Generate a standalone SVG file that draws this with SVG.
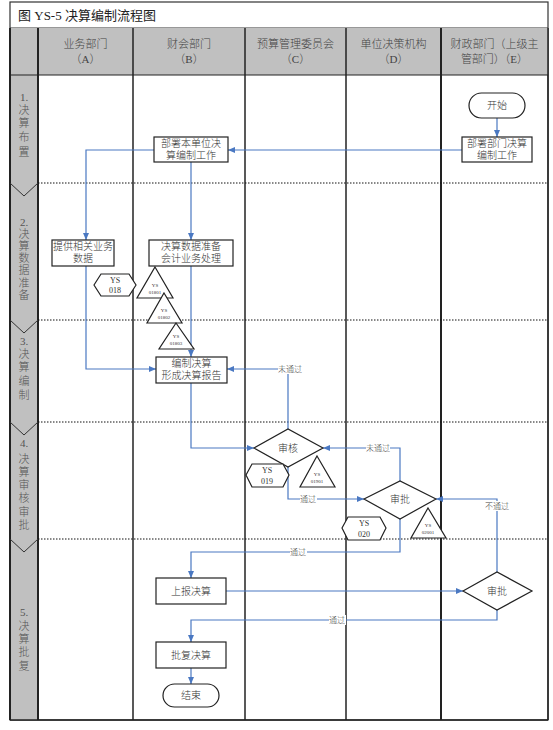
<svg xmlns="http://www.w3.org/2000/svg" width="553" height="730" viewBox="0 0 553 730">
<defs>
<marker id="arr" markerWidth="7" markerHeight="6" refX="7" refY="3" orient="auto" markerUnits="userSpaceOnUse"><path d="M0,0 L7,3 L0,6 Z" fill="#4a78c2"/></marker>
<style>
text{font-family:"Liberation Serif","Noto Sans CJK SC",serif;fill:#333;text-anchor:middle;font-weight:300}
.hd{font-size:11px;fill:#444}
.ph{font-size:11px;fill:#555}
.nd{font-size:10px}
.lb{font-size:8px;fill:#444}
.sm{font-size:8px}
.tn{font-size:5px}
.box{fill:#fff;stroke:#222;stroke-width:1.2}
.dot{stroke:#111;stroke-width:1;stroke-dasharray:1.5,1.5;fill:none}
.col{stroke:#222;stroke-width:1.5;fill:none}
.cn{fill:none;stroke:#4a78c2;stroke-width:1.2;marker-end:url(#arr)}
.lbg{fill:#fff}
</style>
</defs>
<rect x="10" y="2" width="538" height="718" fill="#fff" stroke="#333" stroke-width="1.2"/>
<text x="18" y="20" style="font-size:13px;text-anchor:start;fill:#222;font-weight:400">图 YS-5 决算编制流程图</text>
<line x1="10" y1="28" x2="548" y2="28" stroke="#333" stroke-width="1.2"/>
<rect x="10" y="28" width="538" height="47" fill="#c0c0c0"/>
<rect x="10" y="75" width="28" height="645" fill="#c0c0c0"/>
<line x1="10" y1="75" x2="548" y2="75" stroke="#222" stroke-width="1.2"/>
<g id="lanes">
<line class="col" x1="10" y1="28" x2="10" y2="720" style="stroke-width:2"/>
<line class="col" x1="38" y1="28" x2="38" y2="720" style="stroke-width:2"/>
<line class="col" x1="133" y1="28" x2="133" y2="720"/>
<line class="col" x1="245" y1="28" x2="245" y2="720"/>
<line class="col" x1="346" y1="28" x2="346" y2="720"/>
<line class="col" x1="441" y1="28" x2="441" y2="720" style="stroke-width:2"/>
<line class="col" x1="548" y1="28" x2="548" y2="720"/>
<line x1="10" y1="720" x2="548" y2="720" stroke="#222" stroke-width="1.5"/>
<line class="dot" x1="38" y1="183" x2="548" y2="183"/>
<line class="dot" x1="38" y1="320" x2="548" y2="320"/>
<line class="dot" x1="38" y1="422" x2="548" y2="422"/>
<line class="dot" x1="38" y1="539" x2="548" y2="539"/>
<polyline points="10,183 24,196 38,183" fill="none" stroke="#333" stroke-width="1"/>
<polyline points="10,320 24,333 38,320" fill="none" stroke="#333" stroke-width="1"/>
<polyline points="10,422 24,435 38,422" fill="none" stroke="#333" stroke-width="1"/>
<polyline points="10,539 24,552 38,539" fill="none" stroke="#333" stroke-width="1"/>
</g>
<g id="headers">
<text class="hd" x="85.5" y="48">业务部门</text><text class="hd" x="85.5" y="63">（A）</text>
<text class="hd" x="189" y="48">财会部门</text><text class="hd" x="189" y="63">（B）</text>
<text class="hd" x="295.5" y="48">预算管理委员会</text><text class="hd" x="295.5" y="63">（C）</text>
<text class="hd" x="393.5" y="48">单位决策机构</text><text class="hd" x="393.5" y="63">（D）</text>
<text class="hd" x="494.5" y="48">财政部门（上级主</text><text class="hd" x="494.5" y="63">管部门）（E）</text>
</g>
<g id="phases">
<text class="ph" x="24"><tspan x="24" y="101">1.</tspan><tspan x="24" y="114">决</tspan><tspan x="24" y="127">算</tspan><tspan x="24" y="141">布</tspan><tspan x="24" y="156">置</tspan></text>
<text class="ph" x="24"><tspan x="24" y="226">2.</tspan><tspan x="24" y="238">决</tspan><tspan x="24" y="250">算</tspan><tspan x="24" y="262">数</tspan><tspan x="24" y="274">据</tspan><tspan x="24" y="287">准</tspan><tspan x="24" y="299">备</tspan></text>
<text class="ph" x="24"><tspan x="24" y="345">3.</tspan><tspan x="24" y="358">决</tspan><tspan x="24" y="371">算</tspan><tspan x="24" y="385">编</tspan><tspan x="24" y="399">制</tspan></text>
<text class="ph" x="24"><tspan x="24" y="447">4.</tspan><tspan x="24" y="463">决</tspan><tspan x="24" y="476">算</tspan><tspan x="24" y="489">审</tspan><tspan x="24" y="502">核</tspan><tspan x="24" y="516">审</tspan><tspan x="24" y="529">批</tspan></text>
<text class="ph" x="24"><tspan x="24" y="616">5.</tspan><tspan x="24" y="630">决</tspan><tspan x="24" y="643">算</tspan><tspan x="24" y="656">批</tspan><tspan x="24" y="670">复</tspan></text>
</g>
<g id="connectors">
<path class="cn" d="M497,118 V137"/>
<path class="cn" d="M462,150 H228"/>
<path class="cn" d="M154,150 H86 V240"/>
<path class="cn" d="M191,162 V240"/>
<path class="cn" d="M86,266 V369 H156"/>
<path class="cn" d="M191,266 V357"/>
<path class="cn" d="M191,383 V448 H254"/>
<path class="cn" d="M288,429 V369 H227"/>
<path class="cn" d="M288,467 V499 H364"/>
<path class="cn" d="M400,481 V448 H323"/>
<path class="cn" d="M400,519 V552 H191 V578"/>
<path class="cn" d="M226,591 H463"/>
<path class="cn" d="M497,572 V499 H436"/>
<path class="cn" d="M497,610 V620 H191 V642"/>
<path class="cn" d="M191,668 V684"/>
<rect class="lbg" x="278" y="364" width="24" height="10"/><text class="lb" x="290" y="372">未通过</text>
<rect class="lbg" x="300" y="494" width="17" height="10"/><text class="lb" x="308" y="502">通过</text>
<rect class="lbg" x="366" y="443" width="24" height="10"/><text class="lb" x="378" y="451">未通过</text>
<rect class="lbg" x="290" y="547" width="17" height="10"/><text class="lb" x="298" y="555">通过</text>
<rect class="lbg" x="485" y="501" width="24" height="10"/><text class="lb" x="497" y="509">不通过</text>
<rect class="lbg" x="329" y="615" width="17" height="10"/><text class="lb" x="337" y="623">通过</text>
</g>
<g id="n_start"><rect class="box" x="469" y="93" width="56" height="25" rx="12.5"/><text class="nd" x="497" y="109">开始</text></g>
<g id="n_e1"><rect class="box" x="462" y="137" width="70" height="25"/><text class="nd" x="497" y="147">部署部门决算</text><text class="nd" x="497" y="159">编制工作</text></g>
<g id="n_b1"><rect class="box" x="154" y="137" width="74" height="25"/><text class="nd" x="191" y="147">部署本单位决</text><text class="nd" x="191" y="159">算编制工作</text></g>
<g id="n_a1"><rect class="box" x="52" y="240" width="62" height="26"/><text class="nd" x="83" y="250">提供相关业务</text><text class="nd" x="83" y="262">数据</text></g>
<g id="n_b2"><rect class="box" x="149" y="240" width="84" height="26"/><text class="nd" x="191" y="250">决算数据准备</text><text class="nd" x="191" y="262">会计业务处理</text></g>
<g id="h_018"><polygon class="box" points="94,285 101,274 129,274 136,285 129,296 101,296"/><text class="sm" x="115" y="283">YS</text><text class="sm" x="115" y="293">018</text></g>
<g id="t_01801"><polygon class="box" points="155,267 173,298 137,298"/><text class="tn" x="155" y="287">YS</text><text class="tn" x="155" y="294">01801</text></g>
<g id="t_01802"><polygon class="box" points="164,293 182,323 147,323"/><text class="tn" x="164" y="312">YS</text><text class="tn" x="164" y="319">01802</text></g>
<g id="t_01803"><polygon class="box" points="176,323 194,349 159,349"/><text class="tn" x="176" y="338">YS</text><text class="tn" x="176" y="345">01803</text></g>
<g id="n_b3"><rect class="box" x="156" y="357" width="71" height="26"/><text class="nd" x="191.5" y="367">编制决算</text><text class="nd" x="191.5" y="379">形成决算报告</text></g>
<g id="d_c"><polygon class="box" points="254,448 288,429 323,448 288,467"/><text class="nd" x="288" y="452">审核</text></g>
<g id="h_019"><polygon class="box" points="246,475 252,464 283,464 289,475 283,487 252,487"/><text class="sm" x="267" y="473">YS</text><text class="sm" x="267" y="484">019</text></g>
<g id="t_01901"><polygon class="box" points="317,456 335,487 300,487"/><text class="tn" x="317" y="476">YS</text><text class="tn" x="317" y="483">01901</text></g>
<g id="d_d"><polygon class="box" points="364,499 400,481 436,499 400,519"/><text class="nd" x="400" y="503">审批</text></g>
<g id="h_020"><polygon class="box" points="342,528 348,517 380,517 386,528 380,540 348,540"/><text class="sm" x="364" y="526">YS</text><text class="sm" x="364" y="537">020</text></g>
<g id="t_02001"><polygon class="box" points="428,508 446,538 411,538"/><text class="tn" x="428" y="527">YS</text><text class="tn" x="428" y="534">02001</text></g>
<g id="n_b4"><rect class="box" x="156" y="578" width="70" height="26"/><text class="nd" x="191" y="595">上报决算</text></g>
<g id="d_e"><polygon class="box" points="463,591 497,572 532,591 497,610"/><text class="nd" x="497" y="595">审批</text></g>
<g id="n_b5"><rect class="box" x="156" y="642" width="70" height="26"/><text class="nd" x="191" y="659">批复决算</text></g>
<g id="n_end"><rect class="box" x="163" y="684" width="56" height="23" rx="11.5"/><text class="nd" x="191" y="699">结束</text></g>
</svg>
